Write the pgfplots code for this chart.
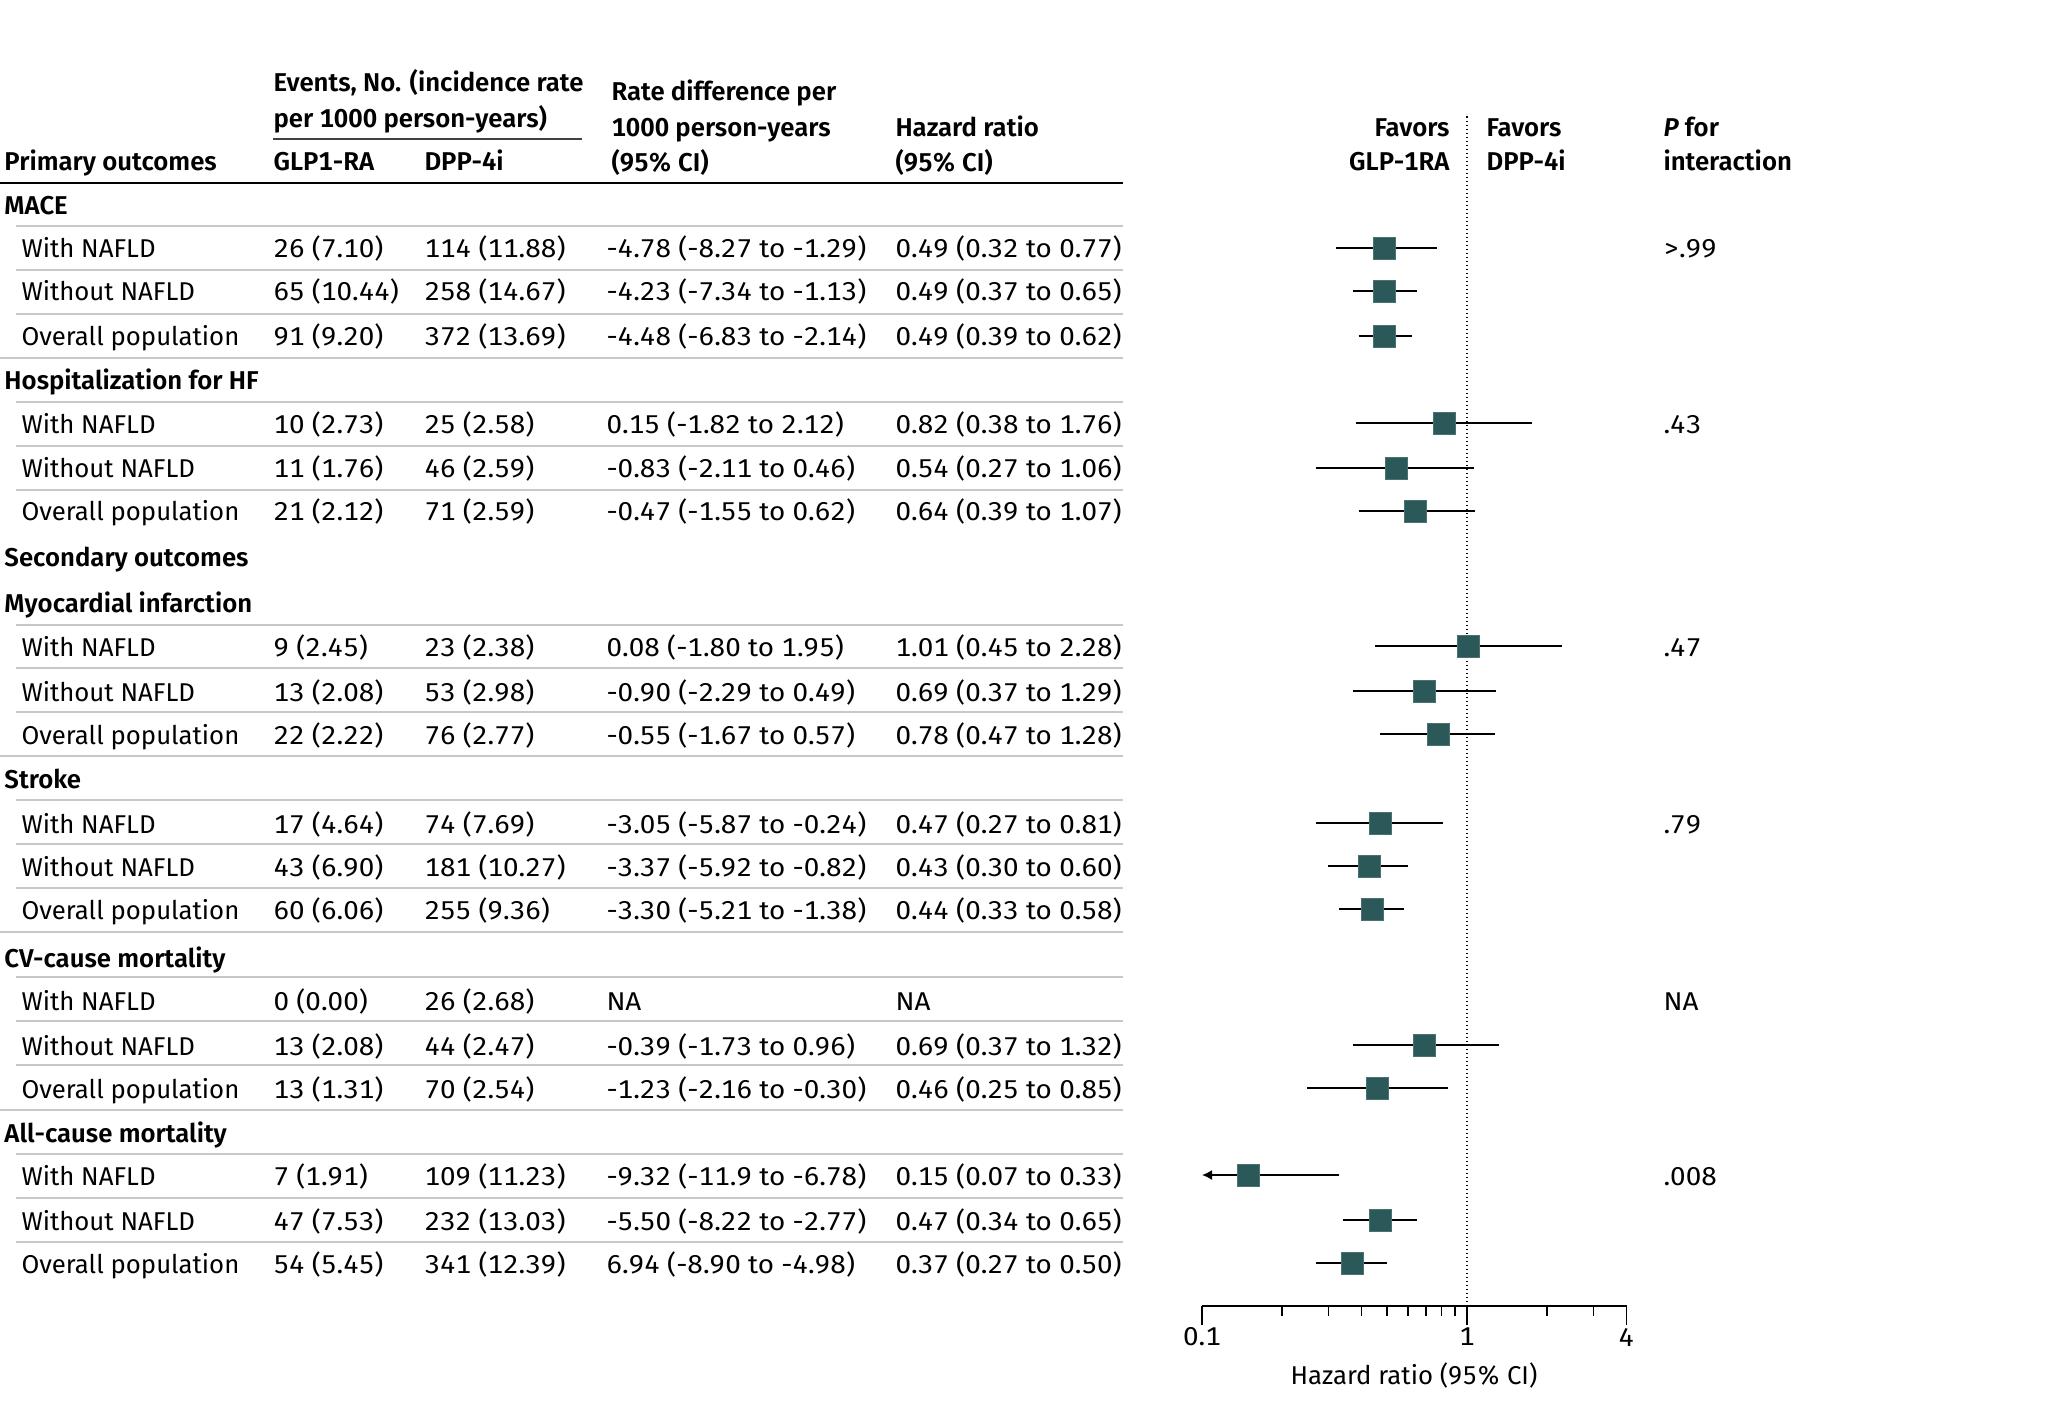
\documentclass[border=0pt]{standalone}
\usepackage{fontspec}
\IfFontExistsTF{Fira Sans SemiBold}{%
\setmainfont{Fira Sans}[Numbers={Monospaced,Lining},BoldFont={Fira Sans SemiBold}]}{%
\setmainfont{Fira Sans}[Numbers={Monospaced,Lining}]}
\newfontfamily\numf{Fira Sans}[Numbers={Monospaced,Lining},FakeStretch=1.08]
\usepackage{pgfplots}
\pgfplotsset{compat=1.18}
\usetikzlibrary{arrows.meta}
\definecolor{boxc}{RGB}{43,88,88}
\definecolor{sepc}{RGB}{200,200,200}
\newcommand{\grp}[2]{\node[anchor=base west] at (4,{#1+10}) {\bfseries #2};}
\newcommand{\drow}[6]{%
 \node[anchor=base west] at (21,{#1+10}) {#2};
 \node[anchor=base west] at (273,{#1+10}) {\numf #3};
 \node[anchor=base west] at (424,{#1+10}) {\numf #4};
 \node[anchor=base west] at (606,{#1+10}) {\numf #5};
 \node[anchor=base west] at (895,{#1+10}) {\numf #6};}
\newcommand{\sepi}[1]{\draw[sepc, line width=0.8pt] (16,#1) -- (1123,#1);}
\newcommand{\sepf}[1]{\draw[sepc, line width=0.8pt] (0,#1) -- (1123,#1);}
\newcommand{\pval}[2]{\node[anchor=base west] at (1663,{#1+10}) {\numf #2};}
\begin{document}
\begin{tikzpicture}[x=0.4pt,y=-0.4pt,font=\fontsize{10.3}{12}\selectfont,every node/.style={inner sep=0pt}]
\useasboundingbox (0,0) rectangle (2048,1418);
\begin{axis}[
  at={(480.8pt,-522.4pt)}, anchor=south west,
  scale only axis, width=169.8pt, height=476.8pt,
  xmode=log, xmin=0.1, xmax=4, ymin=-1306, ymax=-114,
  axis x line*=bottom, axis y line=none,
  clip=false,
  xtick={0.1,1,4}, xticklabels={,,},
  minor xtick={0.2,0.3,0.4,0.5,0.6,0.7,0.8,0.9,2,3},
  tick align=outside, major tick length=7.6pt, minor tick length=4pt,
  tick style={black, line width=0.6pt},
  axis line style={black, line width=0.8pt},
  ytick=\empty,
]
\addplot[black, densely dotted, line width=0.6pt] coordinates {(1,-1306) (1,-114)};
% confidence intervals
\addplot[black, line width=0.6pt] coordinates {(0.32,-248) (0.77,-248)};
\addplot[black, line width=0.6pt] coordinates {(0.37,-291) (0.65,-291)};
\addplot[black, line width=0.6pt] coordinates {(0.39,-336) (0.62,-336)};
\addplot[black, line width=0.6pt] coordinates {(0.38,-423) (1.76,-423)};
\addplot[black, line width=0.6pt] coordinates {(0.27,-468) (1.06,-468)};
\addplot[black, line width=0.6pt] coordinates {(0.39,-511) (1.07,-511)};
\addplot[black, line width=0.6pt] coordinates {(0.45,-646) (2.28,-646)};
\addplot[black, line width=0.6pt] coordinates {(0.37,-691) (1.29,-691)};
\addplot[black, line width=0.6pt] coordinates {(0.47,-734) (1.28,-734)};
\addplot[black, line width=0.6pt] coordinates {(0.27,-823) (0.81,-823)};
\addplot[black, line width=0.6pt] coordinates {(0.30,-866) (0.60,-866)};
\addplot[black, line width=0.6pt] coordinates {(0.33,-909) (0.58,-909)};
\addplot[black, line width=0.6pt] coordinates {(0.37,-1045) (1.32,-1045)};
\addplot[black, line width=0.6pt] coordinates {(0.25,-1088) (0.85,-1088)};
\addplot[black, line width=0.6pt, -{Latex[length=4pt,width=4pt]}] coordinates {(0.33,-1175) (0.1,-1175)};
\addplot[black, line width=0.6pt] coordinates {(0.34,-1220) (0.65,-1220)};
\addplot[black, line width=0.6pt] coordinates {(0.27,-1263) (0.50,-1263)};
% point estimates
\addplot[only marks, mark=square*, mark size=4.4pt, mark options={fill=boxc, draw=boxc!85!white, line width=0.4pt}] coordinates {
(0.49,-248) (0.49,-291) (0.49,-336)
(0.82,-423) (0.54,-468) (0.64,-511)
(1.01,-646) (0.69,-691) (0.78,-734)
(0.47,-823) (0.43,-866) (0.44,-909)
(0.69,-1045) (0.46,-1088)
(0.15,-1175) (0.47,-1220) (0.37,-1263)};
\node at (axis cs:0.1,-1337) {\numf 0.1};
\node at (axis cs:1,-1337) {\numf 1};
\node at (axis cs:4,-1337) {\numf 4};
\end{axis}
\node at (1414,1375) {Hazard ratio (95\% CI)};
% header
\node[anchor=base west] at (273,92) {\bfseries Events, No. (incidence rate};
\node[anchor=base west] at (273,128) {\bfseries per 1000 person-years)};
\draw[black!75, line width=0.6pt] (273,139) -- (582,139);
\node[anchor=base west] at (611,101) {\bfseries Rate difference per};
\node[anchor=base west] at (611,137) {\bfseries 1000 person-years};
\node[anchor=base west] at (611,172) {\bfseries (95\% CI)};
\node[anchor=base west] at (895,137) {\bfseries Hazard ratio};
\node[anchor=base west] at (895,172) {\bfseries (95\% CI)};
\node[anchor=base west] at (4,171) {\bfseries Primary outcomes};
\node[anchor=base west] at (273,171) {\bfseries GLP1-RA};
\node[anchor=base west] at (424,171) {\bfseries DPP-4i};
\draw[black, line width=1.1pt] (0,183) -- (1123,183);
\node[anchor=base east] at (1450,137) {\bfseries Favors};
\node[anchor=base east] at (1450,171) {\bfseries GLP-1RA};
\node[anchor=base west] at (1486,137) {\bfseries Favors};
\node[anchor=base west] at (1486,171) {\bfseries DPP-4i};
\node[anchor=base west] at (1663,137) {\bfseries\itshape P\upshape\ for};
\node[anchor=base west] at (1663,171) {\bfseries interaction};
% body
\grp{205}{MACE}
\sepi{226}
\drow{248}{With NAFLD}{26 (7.10)}{114 (11.88)}{-4.78 (-8.27 to -1.29)}{0.49 (0.32 to 0.77)}
\sepi{270}
\drow{291}{Without NAFLD}{65 (10.44)}{258 (14.67)}{-4.23 (-7.34 to -1.13)}{0.49 (0.37 to 0.65)}
\sepi{314}
\drow{336}{Overall population}{91 (9.20)}{372 (13.69)}{-4.48 (-6.83 to -2.14)}{0.49 (0.39 to 0.62)}
\sepf{358}
\grp{380}{Hospitalization for HF}
\sepi{402}
\drow{423}{With NAFLD}{10 (2.73)}{25 (2.58)}{0.15 (-1.82 to 2.12)}{0.82 (0.38 to 1.76)}
\sepi{446}
\drow{468}{Without NAFLD}{11 (1.76)}{46 (2.59)}{-0.83 (-2.11 to 0.46)}{0.54 (0.27 to 1.06)}
\sepi{490}
\drow{511}{Overall population}{21 (2.12)}{71 (2.59)}{-0.47 (-1.55 to 0.62)}{0.64 (0.39 to 1.07)}
\grp{556}{Secondary outcomes}
\grp{603}{Myocardial infarction}
\sepi{625}
\drow{646}{With NAFLD}{9 (2.45)}{23 (2.38)}{0.08 (-1.80 to 1.95)}{1.01 (0.45 to 2.28)}
\sepi{668}
\drow{691}{Without NAFLD}{13 (2.08)}{53 (2.98)}{-0.90 (-2.29 to 0.49)}{0.69 (0.37 to 1.29)}
\sepi{712}
\drow{734}{Overall population}{22 (2.22)}{76 (2.77)}{-0.55 (-1.67 to 0.57)}{0.78 (0.47 to 1.28)}
\sepf{756}
\grp{778}{Stroke}
\sepi{800}
\drow{823}{With NAFLD}{17 (4.64)}{74 (7.69)}{-3.05 (-5.87 to -0.24)}{0.47 (0.27 to 0.81)}
\sepi{844}
\drow{866}{Without NAFLD}{43 (6.90)}{181 (10.27)}{-3.37 (-5.92 to -0.82)}{0.43 (0.30 to 0.60)}
\sepi{888}
\drow{909}{Overall population}{60 (6.06)}{255 (9.36)}{-3.30 (-5.21 to -1.38)}{0.44 (0.33 to 0.58)}
\sepf{932}
\grp{957}{CV-cause mortality}
\sepi{977}
\drow{1000}{With NAFLD}{0 (0.00)}{26 (2.68)}{NA}{NA}
\sepi{1021}
\drow{1045}{Without NAFLD}{13 (2.08)}{44 (2.47)}{-0.39 (-1.73 to 0.96)}{0.69 (0.37 to 1.32)}
\sepi{1065}
\drow{1088}{Overall population}{13 (1.31)}{70 (2.54)}{-1.23 (-2.16 to -0.30)}{0.46 (0.25 to 0.85)}
\sepf{1110}
\grp{1132}{All-cause mortality}
\sepi{1154}
\drow{1175}{With NAFLD}{7 (1.91)}{109 (11.23)}{-9.32 (-11.9 to -6.78)}{0.15 (0.07 to 0.33)}
\sepi{1198}
\drow{1220}{Without NAFLD}{47 (7.53)}{232 (13.03)}{-5.50 (-8.22 to -2.77)}{0.47 (0.34 to 0.65)}
\sepi{1242}
\drow{1263}{Overall population}{54 (5.45)}{341 (12.39)}{6.94 (-8.90 to -4.98)}{0.37 (0.27 to 0.50)}
% P for interaction
\pval{248}{>.99}
\pval{423}{.43}
\pval{646}{.47}
\pval{823}{.79}
\pval{1000}{NA}
\pval{1175}{.008}
\end{tikzpicture}
\end{document}
